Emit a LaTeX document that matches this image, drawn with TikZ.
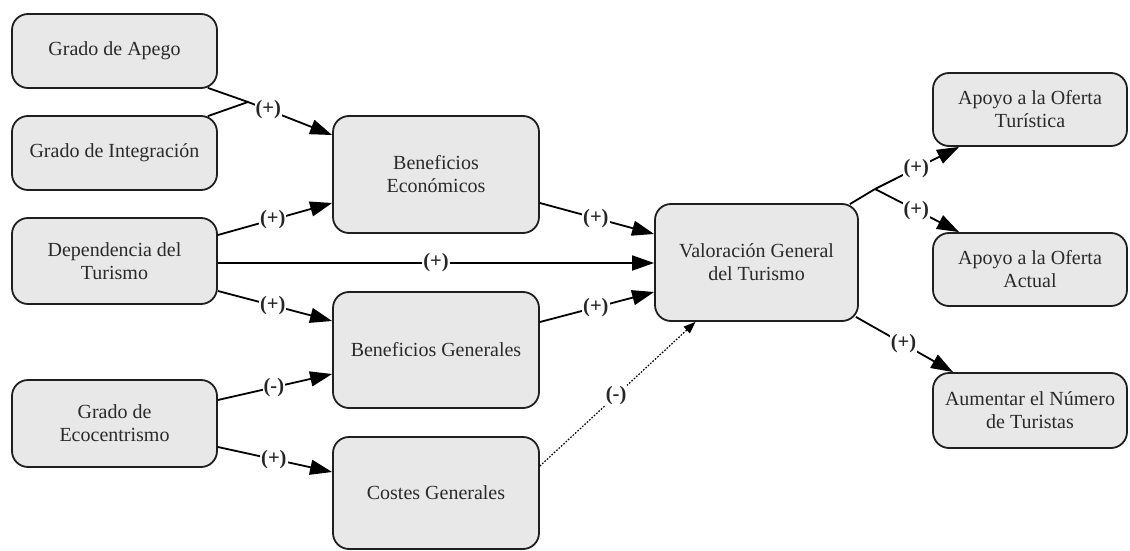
\documentclass[tikz,border=0pt]{standalone}
\usepackage{fontspec}
\setmainfont{Liberation Serif}
\usetikzlibrary{arrows.meta,calc}
\definecolor{boxgray}{HTML}{E8E8E8}
\definecolor{boxtext}{HTML}{2A2A2A}
\begin{document}
\begin{tikzpicture}[x=1pt,y=-1pt,
  box/.style={draw=black!88, line width=1.8pt, fill=boxgray, rounded corners=16pt,
    align=center, text=boxtext, inner sep=0pt,
    font=\fontsize{20}{23}\selectfont},
  link/.style={line width=1.8pt, -{Triangle[length=22pt,width=15pt]}},
  plain/.style={line width=1.8pt},
  weak/.style={line width=1.2pt, dash pattern=on 1.6pt off 1.6pt,
    -{Triangle[length=12pt,width=9pt]}},
  lbl/.style={fill=white, inner sep=1pt, text=black!85,
    font=\fontsize{20.5}{20.5}\selectfont\bfseries}]
\useasboundingbox (0,0) rectangle (1130,551);

% antecedents
\node[box, minimum width=205pt, minimum height=74pt] (apego) at (114.5,51) {Grado de Apego};
\node[box, minimum width=205pt, minimum height=74pt] (integ) at (114.5,153) {Grado de Integración};
\node[box, minimum width=205pt, minimum height=86pt] (dep) at (114.5,261) {Dependencia del\\Turismo};
\node[box, minimum width=205pt, minimum height=87pt] (eco) at (114.5,423.5) {Grado de\\Ecocentrismo};

% mediators
\node[box, minimum width=206pt, minimum height=117pt] (econ) at (436,174.5) {Beneficios\\Económicos};
\node[box, minimum width=206pt, minimum height=116pt] (gen) at (436,350) {Beneficios Generales};
\node[box, minimum width=206pt, minimum height=112pt] (costes) at (436,493) {Costes Generales};

% central construct
\node[box, minimum width=203pt, minimum height=117pt] (valor) at (756.5,262.5) {Valoración General\\del Turismo};

% outcomes
\node[box, minimum width=194pt, minimum height=73pt] (tur) at (1030,109.5) {Apoyo a la Oferta\\Turística};
\node[box, minimum width=194pt, minimum height=73pt] (actual) at (1030,269.5) {Apoyo a la Oferta\\Actual};
\node[box, minimum width=194pt, minimum height=75pt] (aument) at (1030,410.5) {Aumentar el Número\\de Turistas};

% branching points
\coordinate (j1) at (248,102);
\coordinate (j2) at (875,189);

% attachment and integration jointly
\draw[plain] ($(apego.south east)+(-10,-1)$) -- (j1);
\draw[plain] ($(integ.north east)+(-10,1)$) -- (j1);
\draw[link] (j1) -- node[lbl,pos=0.24]{(+)} ($(econ.west)+(0,-39.5)$);

% dependence
\draw[link] ($(dep.east)+(0,-26)$) -- node[lbl,pos=0.48]{(+)} ($(econ.west)+(0,28.5)$);
\draw[link] ($(dep.east)+(0,2)$) -- node[lbl,pos=0.5]{(+)} ($(valor.west)+(0,0.5)$);
\draw[link] ($(dep.east)+(0,30)$) -- node[lbl,pos=0.48]{(+)} ($(gen.west)+(0,-29)$);

% ecocentrism
\draw[link] ($(eco.east)+(0,-23.5)$) -- node[lbl,pos=0.49]{(-)} ($(gen.west)+(0,24)$);
\draw[link] ($(eco.east)+(0,23.5)$) -- node[lbl,pos=0.49]{(+)} ($(costes.west)+(0,-21)$);

% mediators to overall valuation
\draw[link] ($(econ.east)+(0,28.5)$) -- node[lbl,pos=0.49]{(+)} ($(valor.west)+(0,-28.5)$);
\draw[link] ($(gen.east)+(0,-28)$) -- node[lbl,pos=0.49]{(+)} ($(valor.west)+(0,29.5)$);
\draw[weak] ($(costes.east)+(0,-27)$) -- node[lbl,pos=0.49]{(-)} ($(valor.south)+(-61,0)$);

% outcomes of overall valuation
\draw[plain] ($(valor.north east)+(-9,1)$) -- (j2);
\draw[link] (j2) -- node[lbl,pos=0.49]{(+)} ($(tur.south west)+(27,0)$);
\draw[link] (j2) -- node[lbl,pos=0.49]{(+)} ($(actual.north west)+(27,0)$);
\draw[link] ($(valor.south east)+(-3,-5)$) -- node[lbl,pos=0.49]{(+)} ($(aument.north west)+(21,0)$);
\end{tikzpicture}
\end{document}
